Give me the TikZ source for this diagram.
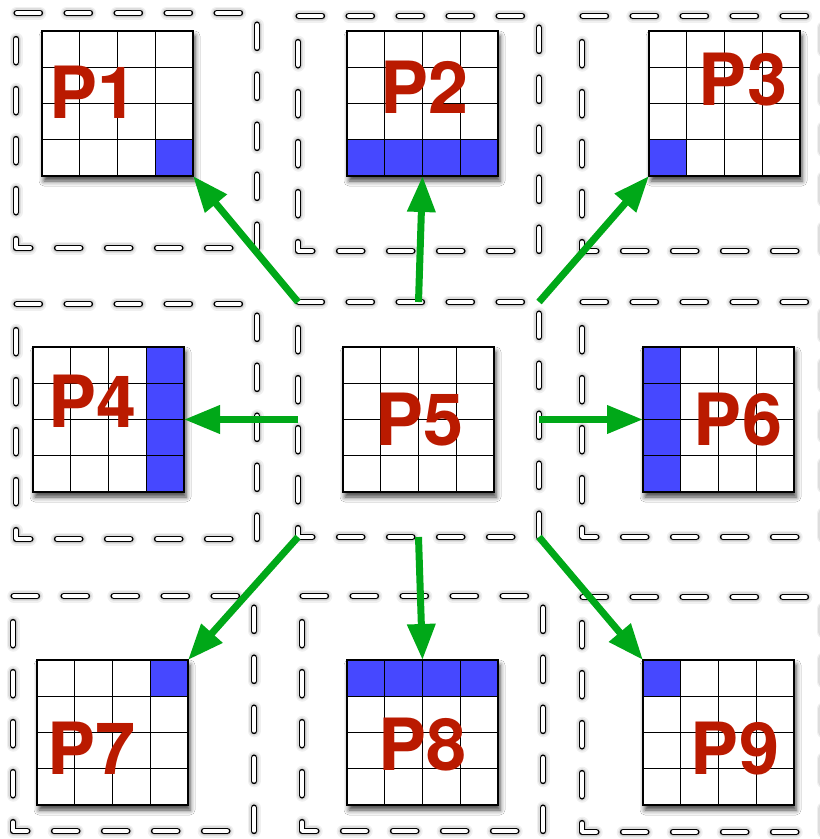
\documentclass[tikz,border=0pt]{standalone}
\usepackage{fontspec}
\setmainfont{TeX Gyre Heros}
\usetikzlibrary{arrows.meta,calc,shadows.blur}
\definecolor{cellblue}{RGB}{70,72,255}
\definecolor{arrgreen}{RGB}{0,168,24}
\definecolor{labred}{RGB}{186,26,0}
\tikzset{
 dashbox/.style={draw=black, line width=1.6pt, double=white, double distance=3.6pt, line cap=round, line join=round, dash pattern=on 23pt off 27pt, dash phase=32.8pt},
 dashshadow/.style={draw=black, line cap=round, line join=round, dash pattern=on 23pt off 27pt, dash phase=32.8pt, yshift=-5pt},
 gridbox/.style={draw=black, fill=white, line width=1.6pt, minimum width=151pt, minimum height=145pt, inner sep=0pt, outer sep=0pt, anchor=north west, blur shadow={shadow xshift=2pt, shadow yshift=-5pt, shadow blur radius=5pt, shadow opacity=75}},
 gridline/.style={line width=1pt},
 plabel/.style={text=labred, font=\fontsize{72}{72}\selectfont\bfseries, inner sep=0pt},
 arr/.style={draw=arrgreen, line width=7pt, -{Triangle[length=36pt,width=27pt]}},
 boxarea/.style={inner sep=0pt, outer sep=0pt, minimum width=241pt, minimum height=235pt, anchor=north west},
}
\newcommand\dashedarea[3]{%
 \node[boxarea] (#1) at (#2,#3) {};
 \foreach \w/\o in {13/0.06,10/0.08,7/0.11}{\draw[dashshadow, line width=\w pt, draw opacity=\o] (#1.north east) -- (#1.north west) -- (#1.south west) -- (#1.south east) -- cycle;}
 \draw[dashbox] (#1.north east) -- (#1.north west) -- (#1.south west) -- (#1.south east) -- cycle;
}
\newcommand\pgrid[3]{\node[gridbox] (#1) at (#2,#3) {};}
\newcommand\bcell[3]{\fill[cellblue] ($(#1.north west)+(#2*37.75,#3*36.25)$) rectangle ++(37.75,36.25);}
\newcommand\glines[1]{%
 \foreach \i in {1,2,3}{%
  \draw[gridline] ($(#1.north west)+(\i*37.75,0)$) -- ++(0,145);
  \draw[gridline] ($(#1.north west)+(0,\i*36.25)$) -- ++(151,0);}
 \draw[line width=1.6pt] (#1.north west) rectangle (#1.south east);
}
\begin{document}
\begin{tikzpicture}[x=1pt,y=-1pt]
\useasboundingbox (0,0) rectangle (820,839);
\fill[white] (0,0) rectangle (820,839);
% dashed areas
\dashedarea{b1}{16}{13}
\dashedarea{b2}{298}{16}
\dashedarea{b3}{582}{16}
\dashedarea{b4}{16}{304}
\dashedarea{b5}{298}{302}
\dashedarea{b6}{582}{302}
\dashedarea{b7}{13}{596}
\dashedarea{b8}{302}{596}
\dashedarea{b9}{582}{597}
% grids
\pgrid{g1}{42}{31}
\pgrid{g2}{347}{31}
\pgrid{g3}{649}{31}
\pgrid{g4}{33}{347}
\pgrid{g5}{343}{347}
\pgrid{g6}{643}{347}
\pgrid{g7}{37}{660}
\pgrid{g8}{347}{660}
\pgrid{g9}{643}{660}
% blue cells
\bcell{g1}{3}{3}
\foreach \c in {0,1,2,3}{\bcell{g2}{\c}{3}}
\bcell{g3}{0}{3}
\foreach \r in {0,1,2,3}{\bcell{g4}{3}{\r}}
\foreach \r in {0,1,2,3}{\bcell{g6}{0}{\r}}
\bcell{g7}{3}{0}
\foreach \c in {0,1,2,3}{\bcell{g8}{\c}{0}}
\bcell{g9}{0}{0}
\foreach \g in {g1,g2,g3,g4,g5,g6,g7,g8,g9}{\glines{\g}}
% labels
\node[plabel] (l1) at (94,92) {P1};
\node[plabel] (l2) at (425,87) {P2};
\node[plabel] (l3) at (743,80) {P3};
\node[plabel] (l4) at (93,401) {P4};
\node[plabel] (l5) at (420,420) {P5};
\node[plabel] (l6) at (738,420) {P6};
\node[plabel] (l7) at (92,748) {P7};
\node[plabel] (l8) at (423,745) {P8};
\node[plabel] (l9) at (735,749) {P9};
% arrows
\draw[arr] (b5.north west) -- (g1.south east);
\draw[arr] (b5.north) -- (g2.south);
\draw[arr] (b5.north east) -- (g3.south west);
\draw[arr] (b5.west) -- (g4.east);
\draw[arr] (b5.east) -- (g6.west);
\draw[arr] (b5.south west) -- (g7.north east);
\draw[arr] (b5.south) -- (g8.north);
\draw[arr] (b5.south east) -- (g9.north west);
\end{tikzpicture}
\end{document}
